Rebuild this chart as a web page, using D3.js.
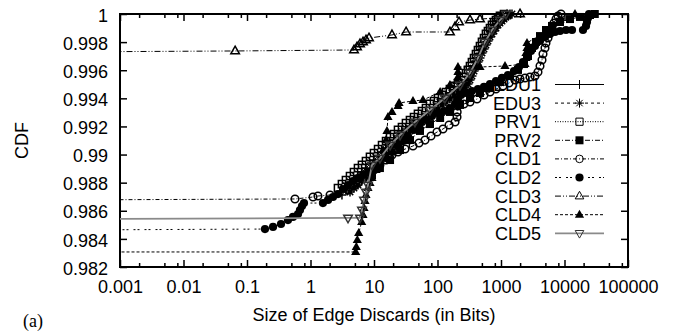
<!DOCTYPE html>
<html>
<head>
<meta charset="utf-8">
<script src="https://cdn.jsdelivr.net/npm/d3@7/dist/d3.min.js"></script>
<style>
  body { margin: 0; background: #fff; }
  svg { display: block; }
</style>
</head>
<body>
<svg id="chart" width="674" height="333"></svg>
<script>
// ---- axis ticks ----
const xTickValues = [0.001, 0.01, 0.1, 1, 10, 100, 1000, 10000, 100000];
const xTickLabels = ["0.001", "0.01", "0.1", "1", "10", "100", "1000", "10000", "100000"];
const xMinorSteps = [2, 5, 8];
const yTickValues = [0.982, 0.984, 0.986, 0.988, 0.99, 0.992, 0.994, 0.996, 0.998, 1];
const yTickLabels = ["0.982", "0.984", "0.986", "0.988", "0.99", "0.992", "0.994", "0.996", "0.998", "1"];

// ---- series: [size of edge discards in bits, CDF] ----
const seriesNames = ["EDU1", "EDU3", "PRV1", "PRV2", "CLD1", "CLD2", "CLD3", "CLD4", "CLD5"];

const edu1 = [[3.13,0.98712],[3.62,0.98748],[4.19,0.98783],[4.84,0.98812],[5.60,0.98840],[6.47,0.98876],[7.48,0.98904],[8.65,0.98933],[10.0,0.98961],[11.6,0.98990],[13.4,0.99018],[15.5,0.99047],[17.9,0.99075],[20.7,0.99103],[23.9,0.99132],[27.6,0.99160],[31.9,0.99182],[36.9,0.99203],[42.7,0.99224],[49.3,0.99246],[57.0,0.99267],[65.9,0.99289],[76.2,0.99310],[88.1,0.99331],[102,0.99360],[118,0.99388],[136,0.99409],[157,0.99431],[182,0.99452],[210,0.99473],[243,0.99495],[281,0.99530],[325,0.99573],[362,0.99616],[404,0.99666],[451,0.99715],[502,0.99758],[560,0.99801],[624,0.99836],[696,0.99872],[776,0.99900],[865,0.99929],[964,0.99950],[1075,0.99972],[1199,0.99986],[1386,1]];

const edu3 = [[4.19,0.98734],[4.84,0.98762],[5.60,0.98783],[6.47,0.98819],[7.48,0.98847],[8.65,0.98883],[10.0,0.98911],[11.6,0.98947],[13.4,0.98975],[15.5,0.99004],[17.9,0.99032],[20.7,0.99061],[23.9,0.99089],[27.6,0.99118],[31.9,0.99139],[36.9,0.99168],[42.7,0.99189],[49.3,0.99210],[57.0,0.99232],[65.9,0.99253],[76.2,0.99274],[88.1,0.99303],[102,0.99324],[118,0.99353],[136,0.99374],[157,0.99395],[182,0.99417],[210,0.99438],[243,0.99459],[271,0.99481],[302,0.99502],[325,0.99530],[349,0.99559],[376,0.99594],[404,0.99623],[434,0.99658],[467,0.99687],[502,0.99723],[540,0.99751],[580,0.99779],[624,0.99808],[671,0.99836],[722,0.99858],[776,0.99879],[834,0.99900],[897,0.99922],[964,0.99936],[1037,0.99950],[1115,0.99964],[1199,0.99979],[1289,0.99986],[1490,1]];

const prv1 = [[2.71,0.98762],[3.13,0.98790],[3.62,0.98819],[4.19,0.98847],[4.84,0.98876],[5.60,0.98904],[6.47,0.98926],[7.48,0.98954],[8.65,0.98983],[10.0,0.99011],[11.6,0.99039],[13.4,0.99068],[15.5,0.99096],[17.9,0.99125],[20.7,0.99146],[23.9,0.99175],[27.6,0.99196],[31.9,0.99224],[36.9,0.99246],[42.7,0.99267],[49.3,0.99289],[57.0,0.99310],[65.9,0.99331],[76.2,0.99360],[88.1,0.99381],[102,0.99402],[118,0.99424],[136,0.99445],[157,0.99466],[182,0.99488],[210,0.99509],[235,0.99530],[261,0.99552],[281,0.99580],[302,0.99602],[325,0.99630],[349,0.99658],[376,0.99687],[404,0.99715],[434,0.99744],[467,0.99772],[502,0.99801],[540,0.99829],[580,0.99858],[624,0.99879],[671,0.99900],[722,0.99922],[776,0.99943],[834,0.99957],[897,0.99972],[964,0.99986],[1115,1]];

const prv2 = [[9.30,0.98854],[12.4,0.98904],[17.9,0.98961],[25.7,0.99032],[36.9,0.99103],[53.0,0.99168],[76.2,0.99217],[110,0.99260],[157,0.99303],[226,0.99353],[325,0.99402],[467,0.99438],[671,0.99473],[964,0.99516],[1386,0.99559],[1852,0.99602],[2302,0.99644],[2662,0.99701],[3078,0.99758],[3557,0.99801],[4114,0.99843],[5113,0.99886],[6357,0.99915],[8495,0.99943],[12210,0.99964],[17540,0.99979],[25210,0.99993],[30000,1]];

const cld1 = [[0.0001,0.98677],[0.570,0.98684],[1.095,0.98698],[1.31,0.98705],[2.03,0.98712],[3.90,0.98748],[4.84,0.98776],[5.60,0.98798],[6.71,0.98826],[8.04,0.98854],[10.0,0.98890],[12.4,0.98926],[15.5,0.98961],[19.2,0.98997],[23.9,0.99018],[30.8,0.99039],[41.1,0.99061],[51.1,0.99082],[63.6,0.99103],[79.0,0.99132],[98.2,0.99160],[122,0.99182],[152,0.99210],[189,0.99232],[203,0.99267],[204,0.99303],[210,0.99345],[261,0.99360],[325,0.99374],[419,0.99395],[540,0.99424],[671,0.99445],[834,0.99466],[1075,0.99488],[1337,0.99509],[1662,0.99530],[1992,0.99538],[2388,0.99545],[2863,0.99552],[3430,0.99559],[3825,0.99587],[4114,0.99630],[4423,0.99673],[4586,0.99715],[4932,0.99758],[5113,0.99794],[5498,0.99829],[5913,0.99865],[6357,0.99900],[6833,0.99936],[7347,0.99964],[7900,0.99986],[8810,1]];

const cld2 = [[0.0001,0.98463],[0.192,0.98470],[0.257,0.98485],[0.343,0.98506],[0.442,0.98534],[0.530,0.98556],[0.636,0.98577],[0.683,0.98605],[0.735,0.98634],[0.790,0.98655],[1.57,0.98655],[1.89,0.98677],[2.26,0.98698],[2.71,0.98719],[3.25,0.98755],[3.90,0.98783],[4.67,0.98812],[5.60,0.98833],[6.71,0.98854],[8.04,0.98876],[10.0,0.98904],[12.4,0.98940],[15.5,0.98975],[19.2,0.99018],[23.9,0.99061],[28.6,0.99096],[34.3,0.99132],[42.7,0.99175],[53.0,0.99217],[65.9,0.99246],[81.9,0.99274],[102,0.99296],[127,0.99310],[157,0.99331],[189,0.99360],[210,0.99395],[235,0.99424],[281,0.99438],[349,0.99452],[434,0.99466],[540,0.99481],[671,0.99502],[834,0.99523],[1037,0.99545],[1289,0.99566],[1602,0.99594],[1921,0.99623],[2221,0.99658],[2567,0.99694],[2968,0.99737],[3430,0.99772],[4114,0.99808],[4932,0.99836],[5913,0.99858],[7087,0.99872],[8495,0.99879],[10560,0.99886],[13130,0.99886],[19550,0.99886],[21810,0.99915],[22610,0.99943],[23440,0.99972],[24310,1]];

const cld3 = [[0.0001,0.99730],[0.065,0.99737],[4.84,0.99744],[5.40,0.99765],[6.02,0.99787],[6.71,0.99801],[7.48,0.99815],[8.34,0.99829],[19.2,0.99851],[32.0,0.99872],[157,0.99872],[189,0.99908],[218,0.99943],[325,0.99957],[467,0.99964],[897,0.99972],[1243,0.99993],[1992,1]];

const cld4 = [[0.0001,0.98307],[5.15,0.98307],[5.26,0.98342],[5.46,0.98392],[5.74,0.98442],[6.40,0.98520],[6.71,0.98570],[6.96,0.98620],[7.22,0.98670],[7.48,0.98712],[8.04,0.98762],[8.65,0.98798],[9.30,0.98833],[10.8,0.98890],[12.4,0.98961],[13.9,0.99032],[15.5,0.99103],[16.0,0.99168],[16.6,0.99267],[19.2,0.99303],[23.9,0.99345],[24.8,0.99367],[41.1,0.99381],[59.1,0.99388],[110,0.99445],[157,0.99495],[203,0.99523],[210,0.99552],[210,0.99587],[210,0.99623],[467,0.99623],[1156,0.99630],[2388,0.99644],[2476,0.99687],[2476,0.99723],[2567,0.99758],[2567,0.99794],[4932,0.99872],[8495,0.99957],[14630,1]];

const cld5 = [[0.0001,0.98541],[3.90,0.98549],[6.02,0.98549],[6.47,0.98605],[6.96,0.98677],[7.48,0.98734],[8.04,0.98783],[9.30,0.98926],[12.4,0.98975],[17.9,0.99068],[25.7,0.99139],[44.2,0.99232],[76.2,0.99317],[131,0.99402],[226,0.99495],[325,0.99580],[434,0.99687],[560,0.99801],[722,0.99886],[964,0.99957],[1199,1]];

const seriesData = [edu1, edu3, prv1, prv2, cld1, cld2, cld3, cld4, cld5];

// ---- line / point styles (gnuplot-like) ----
const styles = {
  EDU1: { dash: null,            color: "#000", width: 1,   mark: "plus" },
  EDU3: { dash: "3,3",           color: "#000", width: 1,   mark: "star" },
  PRV1: { dash: "1,1.5",         color: "#000", width: 1,   mark: "square" },
  PRV2: { dash: "5,2,1,2",       color: "#000", width: 1,   mark: "squareFilled" },
  CLD1: { dash: "4,2,1,2",       color: "#000", width: 1,   mark: "circle" },
  CLD2: { dash: "2,2,2,5",       color: "#000", width: 1,   mark: "circleFilled" },
  CLD3: { dash: "6,2,1,2,1,2",   color: "#000", width: 1,   mark: "triangle" },
  CLD4: { dash: "3,2",           color: "#000", width: 1,   mark: "triangleFilled" },
  CLD5: { dash: null,            color: "#8a8a8a", width: 1.8, mark: "triangleDown" }
};

const FONT = "'Liberation Sans', Arial, Helvetica, sans-serif";
const plot = { left: 120, right: 628, top: 14, bottom: 267 };
const MARK_W = 1.5;

const svg = d3.select("#chart");

const x = d3.scaleLog()
  .domain([xTickValues[0], xTickValues[xTickValues.length - 1]])
  .range([plot.left, plot.right]);
const y = d3.scaleLinear()
  .domain([yTickValues[0], yTickValues[yTickValues.length - 1]])
  .range([plot.bottom, plot.top]);

svg.append("rect").attr("width", 674).attr("height", 333).attr("fill", "#fff");

svg.append("defs").append("clipPath").attr("id", "plotClip")
  .append("rect")
  .attr("x", plot.left).attr("y", plot.top)
  .attr("width", plot.right - plot.left).attr("height", plot.bottom - plot.top);

// ---- axes ----
const minorX = [];
xTickValues.slice(0, -1).forEach(d => xMinorSteps.forEach(k => minorX.push(d * k)));

function styleAxis(g) {
  g.select(".domain").remove();
  g.selectAll(".tick line").attr("stroke", "#000").attr("stroke-width", 1.5);
  g.selectAll("text").attr("font-family", FONT).attr("font-size", 18).attr("fill", "#000");
}

svg.append("g").attr("transform", `translate(0,${plot.bottom})`)
  .call(d3.axisBottom(x).tickValues(xTickValues).tickFormat((d, i) => xTickLabels[i])
    .tickSizeInner(-7).tickSizeOuter(0).tickPadding(13))
  .call(styleAxis);
svg.append("g").attr("transform", `translate(0,${plot.bottom})`)
  .call(d3.axisBottom(x).tickValues(minorX).tickFormat("").tickSizeInner(-4).tickSizeOuter(0))
  .call(styleAxis);
svg.append("g").attr("transform", `translate(0,${plot.top})`)
  .call(d3.axisTop(x).tickValues(xTickValues).tickFormat("").tickSizeInner(-7).tickSizeOuter(0))
  .call(styleAxis);
svg.append("g").attr("transform", `translate(0,${plot.top})`)
  .call(d3.axisTop(x).tickValues(minorX).tickFormat("").tickSizeInner(-4).tickSizeOuter(0))
  .call(styleAxis);

svg.append("g").attr("transform", `translate(${plot.left},0)`)
  .call(d3.axisLeft(y).tickValues(yTickValues).tickFormat((d, i) => yTickLabels[i])
    .tickSizeInner(-7).tickSizeOuter(0).tickPadding(12))
  .call(styleAxis)
  .call(g => g.selectAll("text").attr("dy", "0.4em"));
svg.append("g").attr("transform", `translate(${plot.right},0)`)
  .call(d3.axisRight(y).tickValues(yTickValues).tickFormat("").tickSizeInner(-7).tickSizeOuter(0))
  .call(styleAxis);

svg.append("rect")
  .attr("x", plot.left).attr("y", plot.top)
  .attr("width", plot.right - plot.left).attr("height", plot.bottom - plot.top)
  .attr("fill", "none").attr("stroke", "#000").attr("stroke-width", 2);

// ---- axis titles ----
svg.append("text")
  .attr("x", (plot.left + plot.right) / 2).attr("y", 320.5)
  .attr("text-anchor", "middle")
  .attr("font-family", FONT).attr("font-size", 18)
  .text("Size of Edge Discards (in Bits)");

svg.append("text")
  .attr("transform", `translate(28,${(plot.top + plot.bottom) / 2}) rotate(-90)`)
  .attr("text-anchor", "middle")
  .attr("font-family", FONT).attr("font-size", 18)
  .text("CDF");

svg.append("text")
  .attr("x", 23).attr("y", 326.5)
  .attr("font-family", "'Liberation Serif', 'Times New Roman', serif").attr("font-size", 18)
  .text("(a)");

// ---- point symbols ----
function drawMark(g, type, cx, cy, color, sw) {
  const t = `translate(${cx},${cy})`;
  const stroke = color === "#8a8a8a" ? "#333" : "#000";
  switch (type) {
    case "plus":
      g.append("path").attr("transform", t).attr("d", "M-4.5,0H4.5M0,-4.5V4.5")
        .attr("stroke", stroke).attr("stroke-width", sw).attr("fill", "none"); break;
    case "star":
      g.append("path").attr("transform", t).attr("d", "M-4.5,0H4.5M0,-4.5V4.5M-3.2,-3.2L3.2,3.2M-3.2,3.2L3.2,-3.2")
        .attr("stroke", stroke).attr("stroke-width", sw).attr("fill", "none"); break;
    case "square":
      g.append("path").attr("transform", t).attr("d", "M-3.6,-3.6h7.2v7.2h-7.2z")
        .attr("stroke", stroke).attr("stroke-width", sw).attr("fill", "none"); break;
    case "squareFilled":
      g.append("path").attr("transform", t).attr("d", "M-4,-4h8v8h-8z")
        .attr("fill", stroke); break;
    case "circle":
      g.append("circle").attr("cx", cx).attr("cy", cy).attr("r", 3.8)
        .attr("stroke", stroke).attr("stroke-width", sw).attr("fill", "none"); break;
    case "circleFilled":
      g.append("circle").attr("cx", cx).attr("cy", cy).attr("r", 4.1).attr("fill", stroke); break;
    case "triangle":
      g.append("path").attr("transform", t).attr("d", "M0,-4.8L4.3,2.8L-4.3,2.8Z")
        .attr("stroke", stroke).attr("stroke-width", sw).attr("fill", "none"); break;
    case "triangleFilled":
      g.append("path").attr("transform", t).attr("d", "M0,-5L4.6,3L-4.6,3Z")
        .attr("fill", stroke); break;
    case "triangleDown":
      g.append("path").attr("transform", t).attr("d", "M0,4.8L4.3,-2.8L-4.3,-2.8Z")
        .attr("stroke", stroke).attr("stroke-width", sw).attr("fill", "none"); break;
  }
}

// ---- key ----
const key = svg.append("g");
const keyTop = 84.5, keyStep = 18.6, keyTextX = 541, keyLineX0 = 555, keyLineX1 = 604;
seriesNames.forEach((name, i) => {
  const st = styles[name];
  const ry = keyTop + i * keyStep;
  key.append("text")
    .attr("x", keyTextX).attr("y", ry).attr("dy", "0.36em")
    .attr("text-anchor", "end")
    .attr("font-family", FONT).attr("font-size", 18)
    .text(name);
  key.append("line")
    .attr("x1", keyLineX0).attr("x2", keyLineX1).attr("y1", ry).attr("y2", ry)
    .attr("stroke", st.color).attr("stroke-width", st.width)
    .attr("stroke-dasharray", st.dash);
  drawMark(key, st.mark, (keyLineX0 + keyLineX1) / 2, ry, st.color, 1);
});

// ---- data ----
const line = d3.line().x(d => x(d[0])).y(d => y(d[1]));
const dataLayer = svg.append("g");
seriesNames.forEach((name, i) => {
  const st = styles[name];
  const pts = seriesData[i];
  dataLayer.append("path")
    .attr("d", line(pts))
    .attr("clip-path", "url(#plotClip)")
    .attr("fill", "none")
    .attr("stroke", st.color).attr("stroke-width", st.width)
    .attr("stroke-dasharray", st.dash);
  const mg = dataLayer.append("g");
  pts.filter(d => d[0] >= xTickValues[0])
    .forEach(d => drawMark(mg, st.mark, x(d[0]), y(d[1]), st.color, MARK_W));
});
</script>
</body>
</html>
